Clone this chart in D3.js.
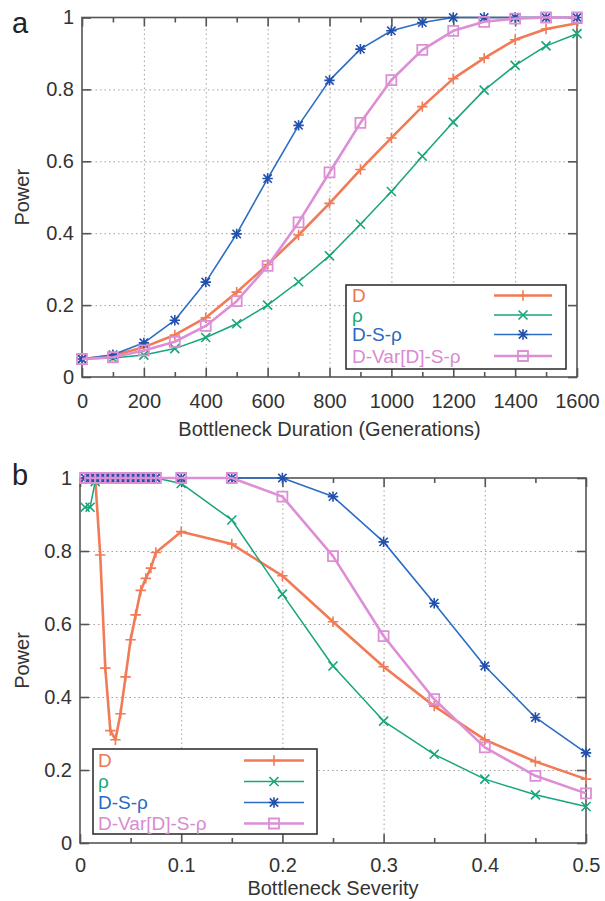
<!DOCTYPE html>
<html lang="en">
<head>
<meta charset="utf-8" />
<title>Power vs bottleneck duration / severity</title>
<script src="https://cdn.jsdelivr.net/npm/d3@7"></script>
<style>
  body{margin:0;background:#fff;font-family:"Liberation Sans",Arial,sans-serif}
  svg{display:block}
  .frame{fill:none;stroke:#555;stroke-width:1.6px}
  .grid line{stroke:#a0a0a0;stroke-width:1px;stroke-dasharray:1.5,3}
  .grid path,.ax path{display:none}
  .ax line{stroke:#555;stroke-width:1.6px}
  .ax text{font-size:20px;fill:#333;font-family:"Liberation Sans",Arial,sans-serif}
  .ax-title{font-size:20px;fill:#333}
  .panel-lbl{font-size:29px;fill:#222}
  .leg-box{fill:#fff;stroke:#333;stroke-width:1.6px}
  .leg-text{font-size:19px}
</style>
</head>
<body>
<svg id="chart" width="605" height="901"></svg>
<script>
/* ---------- panel a: power vs bottleneck duration ---------- */
const durGen   =[0,100,200,300,400,500,600,700,800,900,1000,1100,1200,1300,1400,1500,1600];
const durD     =[0.05,0.06,0.083,0.117,0.165,0.236,0.313,0.395,0.483,0.577,0.665,0.752,0.83,0.887,0.938,0.968,0.984];
const durRho   =[0.05,0.053,0.061,0.079,0.11,0.148,0.2,0.265,0.337,0.425,0.516,0.614,0.709,0.798,0.867,0.921,0.955];
const durDSRho =[0.05,0.062,0.095,0.158,0.264,0.398,0.552,0.7,0.825,0.912,0.963,0.986,1,1,1,1,1];
const durDVar  =[0.05,0.055,0.074,0.098,0.142,0.211,0.309,0.43,0.569,0.707,0.826,0.91,0.963,0.988,0.997,1,1];

/* ---------- panel b: power vs bottleneck severity ---------- */
const sevX     =[0.005,0.01,0.015,0.02,0.025,0.03,0.035,0.04,0.045,0.05,0.055,0.06,0.065,0.07,0.075,
                 0.1,0.15,0.2,0.25,0.3,0.35,0.4,0.45,0.5];
const sevD     =[1,1,1,0.789,0.479,0.308,0.283,0.354,0.455,0.557,0.625,0.692,0.725,0.753,0.796,
                 0.853,0.819,0.732,0.606,0.483,0.375,0.283,0.223,0.175];
const sevRho   =[0.92,0.92,0.99,1,1,1,1,1,1,1,1,1,1,1,1,
                 0.985,0.885,0.682,0.485,0.334,0.243,0.175,0.132,0.1];
const sevDSRho =[1,1,1,1,1,1,1,1,1,1,1,1,1,1,1,
                 1,1,1,0.949,0.825,0.657,0.485,0.344,0.247];
const sevDVar  =[1,1,1,1,1,1,1,1,1,1,1,1,1,1,1,
                 1,1,0.949,0.786,0.567,0.394,0.262,0.184,0.136];

/* ---------- ticks ---------- */
const powerTicks=[0,0.2,0.4,0.6,0.8,1];
const durTicks  =[0,200,400,600,800,1000,1200,1400,1600];
const durMinor  =[100,300,500,700,900,1100,1300,1500];
const sevTicks  =[0,0.1,0.2,0.3,0.4,0.5];
const sevMinor  =[0.05,0.15,0.25,0.35,0.45];

const seriesNames=['D','ρ','D-S-ρ','D-Var[D]-S-ρ'];

const styles=[
  {color:'#f07b56',text:'#f07550',width:2.6,mark:'plus'},
  {color:'#17a57b',text:'#1aa67a',width:1.5,mark:'cross'},
  {color:'#2b6cc5',text:'#2a68c4',width:1.6,mark:'star',markColor:'#2150ad'},
  {color:'#dd8ed5',text:'#d98ad2',width:2.6,mark:'square'}
];

const svg=d3.select('#chart');

function markPath(type,s){
  if(type==='plus')  return `M${-s},0H${s}M0,${-s}V${s}`;
  if(type==='cross') return `M${-s},${-s}L${s},${s}M${-s},${s}L${s},${-s}`;
  if(type==='star')  return `M${-s},0H${s}M0,${-s}V${s}M${-s*.8},${-s*.8}L${s*.8},${s*.8}M${-s*.8},${s*.8}L${s*.8},${-s*.8}`;
  return `M${-s},${-s}H${s}V${s}H${-s}Z`;
}

function drawMark(g,st,cx,cy){
  const s=st.mark==='square'?5:st.mark==='cross'?4.5:5.2;
  g.append('path')
    .attr('d',markPath(st.mark,s))
    .attr('transform',`translate(${cx},${cy})`)
    .attr('fill','none')
    .attr('stroke',st.markColor||st.color)
    .attr('stroke-width',st.mark==='square'?1.8:1.6);
}

function panel(o){
  const {l,r,t,b}=o.box;
  const x=d3.scaleLinear().domain(o.xDomain).range([l,r]);
  const y=d3.scaleLinear().domain([0,1]).range([b,t]);
  const g=svg.append('g');

  /* grid */
  g.append('g').attr('class','grid').attr('transform',`translate(0,${b})`)
    .call(d3.axisBottom(x).tickValues(o.xTicks.slice(1,-1)).tickSize(-(b-t)).tickFormat(''));
  g.append('g').attr('class','grid').attr('transform',`translate(${l},0)`)
    .call(d3.axisLeft(y).tickValues(powerTicks.slice(1,-1)).tickSize(-(r-l)).tickFormat(''));

  /* axes, ticks pointing inward */
  g.append('g').attr('class','ax').attr('transform',`translate(0,${b})`)
    .call(d3.axisBottom(x).tickValues(o.xTicks).tickSizeInner(-9).tickSizeOuter(0).tickPadding(o.xPad).tickFormat(d=>String(d)));
  g.append('g').attr('class','ax').attr('transform',`translate(0,${b})`)
    .call(d3.axisBottom(x).tickValues(o.xMinor).tickSizeInner(-5).tickSizeOuter(0).tickFormat(''));
  g.append('g').attr('class','ax').attr('transform',`translate(0,${t})`)
    .call(d3.axisTop(x).tickValues(o.xTicks).tickSizeInner(-9).tickSizeOuter(0).tickFormat(''));
  g.append('g').attr('class','ax').attr('transform',`translate(0,${t})`)
    .call(d3.axisTop(x).tickValues(o.xMinor).tickSizeInner(-5).tickSizeOuter(0).tickFormat(''));
  g.append('g').attr('class','ax').attr('transform',`translate(${l},0)`)
    .call(d3.axisLeft(y).tickValues(powerTicks).tickSizeInner(-9).tickSizeOuter(0).tickPadding(8).tickFormat(d=>String(d)));
  g.append('g').attr('class','ax').attr('transform',`translate(${r},0)`)
    .call(d3.axisRight(y).tickValues(powerTicks).tickSizeInner(-9).tickSizeOuter(0).tickFormat(''));

  g.append('rect').attr('class','frame').attr('x',l).attr('y',t).attr('width',r-l).attr('height',b-t);

  /* series */
  const line=d3.line().x(d=>x(d[0])).y(d=>y(d[1]));
  o.series.forEach((ys,i)=>{
    const st=styles[i];
    const pts=o.xs.map((v,k)=>[v,ys[k]]);
    g.append('path').attr('d',line(pts)).attr('fill','none')
      .attr('stroke',st.color).attr('stroke-width',st.width).attr('stroke-linejoin','round');
    pts.forEach(p=>drawMark(g,st,x(p[0]),y(p[1])));
  });

  /* legend */
  const L=o.legend;
  g.append('rect').attr('class','leg-box').attr('x',L.x0).attr('y',L.y0).attr('width',L.x1-L.x0).attr('height',L.y1-L.y0);
  seriesNames.forEach((name,i)=>{
    const st=styles[i];
    const base=L.base[i];
    g.append('text').attr('class','leg-text').attr('x',L.tx).attr('y',base).attr('fill',st.text).text(name);
    const cy=base-6.5;
    g.append('line').attr('x1',L.s0).attr('x2',L.s1).attr('y1',cy).attr('y2',cy)
      .attr('stroke',st.color).attr('stroke-width',st.width);
    drawMark(g,st,(L.s0+L.s1)/2,cy);
  });

  /* titles */
  g.append('text').attr('class','ax-title').attr('x',(l+r)/2).attr('y',o.titleY)
    .attr('text-anchor','middle').text(o.title);
  g.append('text').attr('class','ax-title').attr('transform',`translate(29,${(t+b)/2}) rotate(-90)`)
    .attr('text-anchor','middle').text('Power');
  g.append('text').attr('class','panel-lbl').attr('x',12).attr('y',o.lblY).text(o.lbl);
}

panel({
  box:{l:82,r:577,t:17.5,b:377},
  xDomain:[0,1600],xTicks:durTicks,xMinor:durMinor,xPad:16.5,
  xs:durGen,series:[durD,durRho,durDSRho,durDVar],
  legend:{x0:346,x1:566,y0:285,y1:369,tx:352,base:[302,321.5,341,362.5],s0:494,s1:552},
  title:'Bottleneck Duration (Generations)',titleY:436,lbl:'a',lblY:33
});

panel({
  box:{l:80,r:586,t:478,b:843},
  xDomain:[0,0.5],xTicks:sevTicks,xMinor:sevMinor,xPad:15,
  xs:sevX,series:[sevD,sevRho,sevDSRho,sevDVar],
  legend:{x0:93,x1:317,y0:749,y1:834,tx:98,base:[767,788,809,830],s0:244,s1:304},
  title:'Bottleneck Severity',titleY:895,lbl:'b',lblY:485
});
</script>
</body>
</html>
